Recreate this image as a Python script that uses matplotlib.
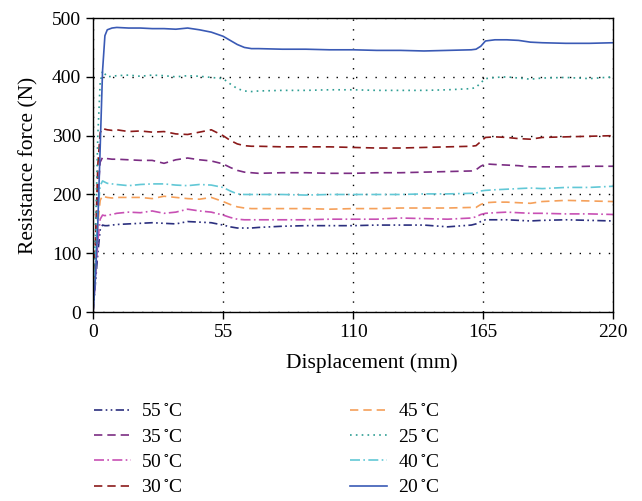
import matplotlib
matplotlib.use("Agg")
import matplotlib.pyplot as plt

plt.rcParams['font.family'] = ['Liberation Serif', 'DejaVu Serif']
plt.rcParams['mathtext.fontset'] = 'stix'

x = [0, 1, 2, 3, 4, 5, 6, 8, 10, 15, 20, 25, 30, 35, 40, 45, 50, 55, 58, 61, 64, 67, 70,
     80, 90, 100, 110, 120, 130, 140, 150, 160, 162, 164, 166, 170, 175, 180, 185, 190, 200, 210, 220]

t20 = [0, 60, 150, 280, 410, 470, 480, 483, 484, 483, 483, 482, 482, 481, 483, 480, 476, 469, 462, 455, 450, 448, 448,
       447, 447, 446, 446, 445, 445, 444, 445, 446, 447, 452, 461, 463, 463, 462, 459, 458, 457, 457, 458]
t25 = [0, 130, 300, 390, 410, 405, 400, 401, 402, 403, 401, 403, 402, 400, 402, 401, 399, 397, 388, 380, 376, 375, 376,
       377, 377, 378, 378, 377, 377, 377, 378, 380, 382, 390, 397, 399, 400, 398, 396, 398, 399, 397, 400]
t30 = [0, 120, 250, 305, 313, 311, 310, 309, 310, 307, 308, 306, 307, 303, 302, 306, 310, 300, 292, 286, 283, 282, 282,
       281, 281, 281, 280, 279, 279, 280, 281, 282, 283, 290, 297, 298, 297, 295, 294, 297, 298, 299, 300]
t35 = [0, 100, 200, 255, 263, 262, 261, 260, 260, 259, 258, 258, 253, 259, 262, 259, 257, 252, 246, 241, 238, 237, 236,
       237, 237, 236, 236, 237, 237, 238, 239, 240, 242, 248, 252, 251, 250, 249, 247, 247, 247, 248, 248]
t40 = [0, 80, 170, 215, 223, 221, 219, 218, 217, 215, 217, 218, 218, 216, 215, 217, 216, 212, 206, 201, 200, 200, 200,
       200, 199, 200, 200, 200, 200, 201, 201, 202, 202, 206, 207, 208, 209, 210, 211, 210, 212, 212, 214]
t45 = [0, 70, 150, 190, 198, 196, 195, 194, 195, 195, 195, 193, 197, 195, 193, 192, 195, 188, 183, 179, 177, 176, 176,
       176, 176, 175, 176, 176, 177, 177, 177, 178, 178, 183, 186, 187, 187, 186, 185, 188, 190, 189, 188]
t50 = [0, 60, 120, 158, 165, 164, 165, 166, 168, 170, 169, 172, 168, 170, 175, 172, 170, 165, 161, 158, 157, 157, 157,
       157, 157, 158, 158, 158, 160, 159, 158, 160, 162, 166, 168, 169, 170, 169, 168, 168, 167, 167, 166]
t55 = [0, 50, 100, 140, 148, 147, 147, 148, 149, 150, 151, 152, 151, 150, 154, 153, 152, 148, 145, 143, 143, 143, 144,
       146, 147, 147, 147, 148, 148, 148, 145, 148, 150, 154, 157, 157, 157, 156, 155, 156, 157, 156, 155]

labels = [r'55$\,^{\circ}$C', r'35$\,^{\circ}$C', r'50$\,^{\circ}$C', r'30$\,^{\circ}$C',
          r'45$\,^{\circ}$C', r'25$\,^{\circ}$C', r'40$\,^{\circ}$C', r'20$\,^{\circ}$C']
series = [t55, t35, t50, t30, t45, t25, t40, t20]
colors = ['#2b2f7e', '#7b2d83', '#c850b4', '#8b1a1a', '#f5a05a', '#2f9e94', '#62c8d6', '#3a5ab5']
styles = [(0, (5, 2, 1, 2, 1, 2)), (0, (5, 3)), (0, (6, 2, 1, 2)), (0, (5, 3)),
          (0, (5, 3)), (0, (1, 2.5)), (0, (6, 2, 1, 2)), '-']

fig = plt.figure(figsize=(6.42, 5.01), dpi=100)
ax = fig.add_axes([0.145, 0.377, 0.810, 0.587])

handles = []
for y, c, ls, lab in zip(series, colors, styles, labels):
    h, = ax.plot(x, y, color=c, linestyle=ls, linewidth=1.2, label=lab)
    handles.append(h)

ax.set_xlim(0, 220)
ax.set_ylim(0, 500)
ax.set_xticks([0, 55, 110, 165, 220])
ax.set_yticks([0, 100, 200, 300, 400, 500])
ax.tick_params(direction='out', length=5, labelsize=14, width=1)
ax.grid(True, color='black', linestyle=(0, (1, 6)), linewidth=1.0)
for s in ax.spines.values():
    s.set_linewidth(1.0)
ax.set_xlabel('Displacement (mm)', fontsize=15.5)
ax.set_ylabel('Resistance force (N)', fontsize=15.5)
ax.xaxis.set_label_coords(0.537, -0.14)
ax.yaxis.set_label_coords(-0.105, 0.5)

fig.legend(handles=handles, labels=labels, loc='upper left',
           bbox_to_anchor=(84 / 642, 1 - 393 / 501), ncol=2, frameon=False,
           fontsize=14, handlelength=1.9, handletextpad=0.55, columnspacing=8.6,
           labelspacing=0.4, borderpad=0)

fig.savefig('out.png', dpi=100)
